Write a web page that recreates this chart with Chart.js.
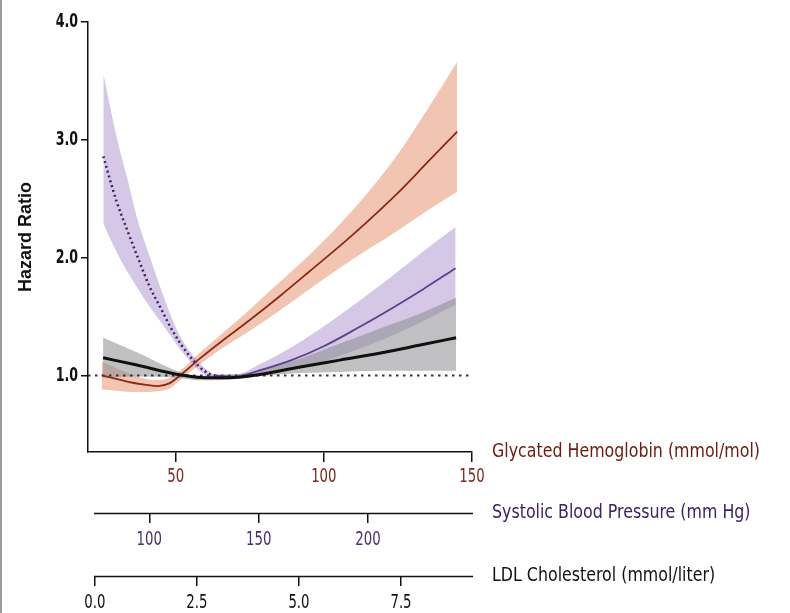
<!DOCTYPE html>
<html lang="en">
<head>
<meta charset="UTF-8">
<title>Hazard Ratio</title>
<script src="https://cdn.jsdelivr.net/npm/chart.js"></script>
<style>
    html, body { margin: 0; padding: 0; background: #fff; }
</style>
</head>
<body>
<canvas id="hrChart" width="790" height="613"></canvas>
<script>
    // Glycated hemoglobin (mmol/mol)
    const glyX  = [25, 30, 35, 40, 44, 48, 52, 58, 65, 75, 85, 95, 110, 125, 135, 145];
    const glyHR = [1.00, 0.97, 0.94, 0.92, 0.91, 0.935, 1.01, 1.14, 1.28, 1.47, 1.67, 1.88, 2.20, 2.55, 2.81, 3.07];
    const glyHi = [1.12, 1.06, 1.01, 0.97, 0.96, 0.98, 1.05, 1.19, 1.34, 1.56, 1.79, 2.02, 2.41, 2.88, 3.26, 3.66];
    const glyLo = [0.88, 0.87, 0.86, 0.86, 0.865, 0.89, 0.97, 1.09, 1.22, 1.38, 1.55, 1.73, 1.99, 2.23, 2.40, 2.56];

    // Systolic blood pressure (mm Hg)
    const sbpX  = [79, 85, 90, 95, 100, 105, 110, 115, 120, 125, 130, 140, 150, 165, 180, 195, 210, 225, 240];
    const sbpHR = [2.86, 2.48, 2.23, 1.99, 1.76, 1.58, 1.40, 1.25, 1.13, 1.04, 1.00, 0.99, 1.04, 1.13, 1.25, 1.40, 1.56, 1.73, 1.91];
    const sbpHi = [3.56, 3.03, 2.67, 2.30, 2.02, 1.75, 1.50, 1.30, 1.17, 1.07, 1.01, 1.01, 1.09, 1.24, 1.42, 1.62, 1.83, 2.05, 2.26];
    const sbpLo = [2.29, 2.05, 1.88, 1.73, 1.59, 1.46, 1.33, 1.20, 1.09, 1.01, 0.97, 0.97, 1.00, 1.05, 1.12, 1.22, 1.33, 1.46, 1.60];

    // LDL cholesterol (mmol/liter)
    const ldlX  = [0.2, 1, 2, 2.5, 3, 3.5, 4, 5, 6, 7, 8, 8.85];
    const ldlHR = [1.15, 1.09, 1.01, 0.985, 0.98, 0.985, 1.005, 1.07, 1.13, 1.19, 1.26, 1.32];
    const ldlHi = [1.32, 1.20, 1.04, 1.00, 1.00, 1.01, 1.04, 1.14, 1.27, 1.40, 1.53, 1.66];
    const ldlLo = [0.98, 0.99, 0.98, 0.96, 0.96, 0.97, 0.99, 1.02, 1.03, 1.04, 1.04, 1.04];

    // reference line HR = 1
    const refX  = [20.4, 150];
    const refHR = [1.0, 1.0];

    // ticks
    const hrTicks  = [1.0, 2.0, 3.0, 4.0];
    const glyTicks = [50, 100, 150];
    const sbpTicks = [100, 150, 200];
    const ldlTicks = [0.0, 2.5, 5.0, 7.5];

    const axisIds    = ['gly', 'sbp', 'ldl'];
    const axisNames  = ['Glycated Hemoglobin (mmol/mol)', 'Systolic Blood Pressure (mm Hg)', 'LDL Cholesterol (mmol/liter)'];
    const axisColors = ['#6e1a10', '#3e2363', '#111111'];
    const tickColors = ['#7b2a1c', '#4a3070', '#111111'];
    const tickFmt    = [v => String(v), v => String(v), v => v.toFixed(1)];

    const FONT = '"DejaVu Sans Condensed", "DejaVu Sans", sans-serif';
    const sbpDottedUntil = 130;

    const pts = (xs, ys) => xs.map((x, i) => ({ x: x, y: ys[i] }));

    function band(xs, hi, lo, axis, color, order) {
        const common = { xAxisID: axis, borderWidth: 0, pointRadius: 0, cubicInterpolationMode: 'monotone', order: order };
        return [
            { ...common, data: pts(xs, hi), fill: '+1', backgroundColor: color },
            { ...common, data: pts(xs, lo), fill: false }
        ];
    }

    function xAxis(min, max, ticks, height, showBorder) {
        return {
            type: 'linear', position: 'bottom', min: min, max: max,
            afterBuildTicks: s => { s.ticks = ticks.map(v => ({ value: v })); },
            afterFit: s => { s.height = height; },
            grid: { drawOnChartArea: false, tickLength: 10, color: '#111', lineWidth: 1.5 },
            border: { display: showBorder, color: '#111', width: 1.5 },
            ticks: { display: false }
        };
    }

    // narrow text helper (the figure uses a condensed face)
    function squeezed(ctx, text, x, y, align, sx) {
        ctx.save();
        ctx.translate(x, y);
        ctx.scale(sx, 1);
        ctx.textAlign = align;
        ctx.fillText(text, 0, 0);
        ctx.restore();
    }

    const axisText = {
        id: 'axisText',
        afterDraw(chart) {
            const ctx = chart.ctx;
            const area = chart.chartArea;
            ctx.save();
            ctx.textBaseline = 'middle';

            // lower two axis rules start a little right of the plot edge
            ctx.strokeStyle = '#111';
            ctx.lineWidth = 1.5;
            ['sbp', 'ldl'].forEach(id => {
                const y = Math.round(chart.scales[id].top) + 0.5;
                ctx.beginPath();
                ctx.moveTo(area.left + 6, y);
                ctx.lineTo(area.right + 1, y);
                ctx.stroke();
            });

            axisIds.forEach((id, i) => {
                const s = chart.scales[id];
                // tick labels
                ctx.font = '20px ' + FONT;
                ctx.fillStyle = tickColors[i];
                s.ticks.forEach(t => {
                    squeezed(ctx, tickFmt[i](t.value), s.getPixelForValue(t.value), s.top + (i === 0 ? 25 : 27), 'center', 0.74);
                });
                // axis name on the right
                ctx.font = '20px ' + FONT;
                ctx.fillStyle = axisColors[i];
                squeezed(ctx, axisNames[i], area.right + 20, s.top, 'left', 0.88);
            });

            // hazard ratio tick labels
            const ys = chart.scales.y;
            ctx.font = 'bold 20px ' + FONT;
            ctx.fillStyle = '#111';
            ys.ticks.forEach(t => {
                squeezed(ctx, t.value.toFixed(1), ys.right - 10, ys.getPixelForValue(t.value), 'right', 0.7);
            });

            // page edge
            ctx.fillStyle = '#9c9c9c';
            ctx.fillRect(0, 0, 2, chart.height);
            ctx.restore();
        }
    };

    const datasets = [
        ...band(glyX, glyHi, glyLo, 'gly', 'rgba(232,150,115,0.55)', 12),
        ...band(sbpX, sbpHi, sbpLo, 'sbp', 'rgba(170,145,205,0.5)', 11),
        ...band(ldlX, ldlHi, ldlLo, 'ldl', 'rgba(140,140,145,0.55)', 10),
        {
            data: pts(refX, refHR), xAxisID: 'gly', borderColor: '#333', borderWidth: 2,
            borderDash: [2.5, 4.5], pointRadius: 0, fill: false, order: 5
        },
        {
            data: pts(glyX, glyHR), xAxisID: 'gly', borderColor: '#8a2a16', borderWidth: 1.8,
            pointRadius: 0, fill: false, cubicInterpolationMode: 'monotone', order: 2
        },
        {
            data: pts(sbpX, sbpHR), xAxisID: 'sbp', borderColor: '#5e3f8c', borderWidth: 1.8,
            pointRadius: 0, fill: false, cubicInterpolationMode: 'monotone', order: 1,
            segment: {
                borderDash: c => (c.p1.parsed.x <= sbpDottedUntil ? [2, 3] : undefined),
                borderColor: c => (c.p1.parsed.x <= sbpDottedUntil ? '#3d2266' : undefined),
                borderWidth: c => (c.p1.parsed.x <= sbpDottedUntil ? 2.5 : undefined)
            }
        },
        {
            data: pts(ldlX, ldlHR), xAxisID: 'ldl', borderColor: '#111', borderWidth: 3,
            pointRadius: 0, fill: false, cubicInterpolationMode: 'monotone', order: 0
        }
    ];

    new Chart(document.getElementById('hrChart'), {
        type: 'line',
        data: { datasets: datasets },
        plugins: [axisText],
        options: {
            responsive: false,
            animation: false,
            layout: { padding: { top: 22, right: 318, bottom: 0, left: 0 } },
            plugins: { legend: { display: false }, tooltip: { enabled: false } },
            scales: {
                gly: xAxis(20.4, 150, glyTicks, 61, true),
                sbp: xAxis(72, 247.5, sbpTicks, 63, false),
                ldl: xAxis(-0.17, 9.24, ldlTicks, 37, false),
                y: {
                    type: 'linear', position: 'left', min: 0.35, max: 4.0,
                    afterBuildTicks: s => { s.ticks = hrTicks.map(v => ({ value: v })); },
                    afterFit: s => { s.width = 88; },
                    grid: { drawOnChartArea: false, tickLength: 7, color: '#111', lineWidth: 1.5 },
                    border: { color: '#111', width: 1.5 },
                    ticks: { display: false },
                    title: {
                        display: true, text: 'Hazard Ratio', color: '#111',
                        font: { family: '"Liberation Sans", Arial, sans-serif', size: 18, weight: 'bold' },
                        padding: { top: 15, bottom: 0 }
                    }
                }
            }
        }
    });
</script>
</body>
</html>
